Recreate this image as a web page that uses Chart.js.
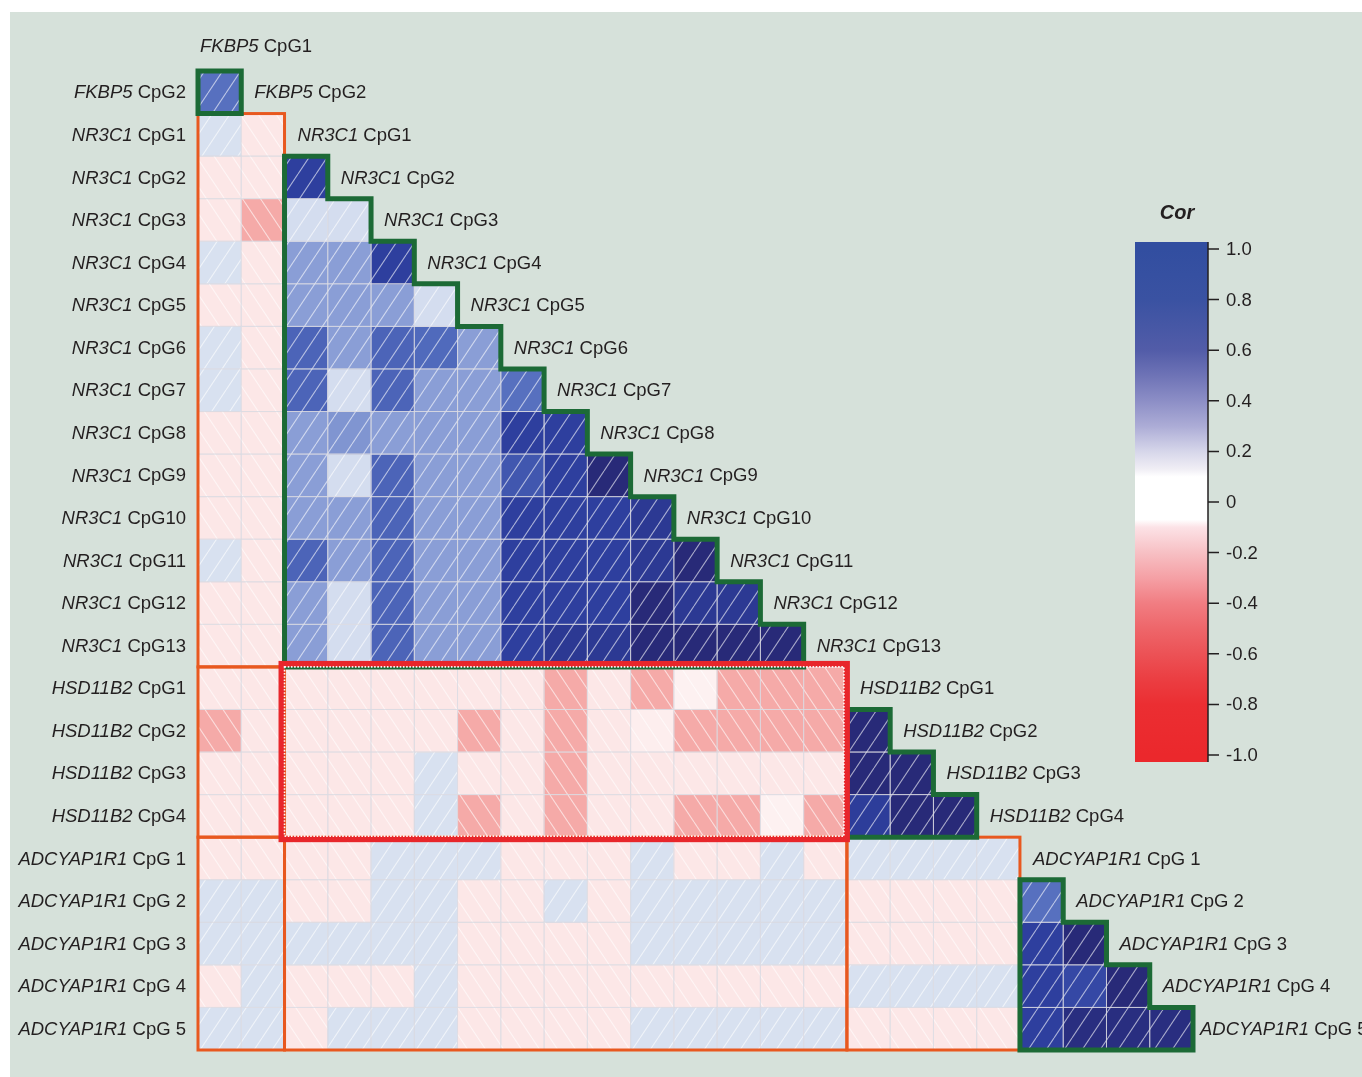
<!DOCTYPE html>
<html>
<head>
<meta charset="utf-8">
<script src="https://cdn.jsdelivr.net/npm/chart.js@4.4.0/dist/chart.umd.min.js"></script>
<style>
  html, body { margin: 0; padding: 0; background: #ffffff; }
  #panel { position: absolute; left: 10px; top: 12px; width: 1352px; height: 1065px; background: #d6e1da; }
  canvas { display: block; }
</style>
</head>
<body>
<div id="panel"><canvas id="corCanvas" width="1352" height="1065"></canvas></div>
<script>
// variables (gene + CpG site), in matrix order
const varGenes = ['FKBP5', 'FKBP5',
  'NR3C1', 'NR3C1', 'NR3C1', 'NR3C1', 'NR3C1', 'NR3C1', 'NR3C1', 'NR3C1', 'NR3C1', 'NR3C1', 'NR3C1', 'NR3C1', 'NR3C1',
  'HSD11B2', 'HSD11B2', 'HSD11B2', 'HSD11B2',
  'ADCYAP1R1', 'ADCYAP1R1', 'ADCYAP1R1', 'ADCYAP1R1', 'ADCYAP1R1'];
const varSites = ['CpG1', 'CpG2',
  'CpG1', 'CpG2', 'CpG3', 'CpG4', 'CpG5', 'CpG6', 'CpG7', 'CpG8', 'CpG9', 'CpG10', 'CpG11', 'CpG12', 'CpG13',
  'CpG1', 'CpG2', 'CpG3', 'CpG4',
  'CpG 1', 'CpG 2', 'CpG 3', 'CpG 4', 'CpG 5'];

// gene groups: first and last variable index
const geneNames = ['FKBP5', 'NR3C1', 'HSD11B2', 'ADCYAP1R1'];
const geneFirst = [0, 2, 15, 19];
const geneLast = [1, 14, 18, 23];

// lower-triangle correlations, one row per variable (columns = earlier variables)
const fkbp5Rows = [
  [0.60]
];
const nr3c1Rows = [
  [0.10, -0.10],
  [-0.10, -0.10, 0.85],
  [-0.10, -0.30, 0.12, 0.12],
  [0.10, -0.10, 0.45, 0.45, 0.85],
  [-0.10, -0.10, 0.45, 0.45, 0.45, 0.12],
  [0.10, -0.10, 0.65, 0.45, 0.65, 0.62, 0.45],
  [0.10, -0.10, 0.65, 0.12, 0.65, 0.45, 0.45, 0.60],
  [-0.10, -0.10, 0.45, 0.48, 0.45, 0.45, 0.45, 0.85, 0.85],
  [-0.10, -0.10, 0.45, 0.12, 0.65, 0.45, 0.45, 0.72, 0.85, 0.95],
  [-0.10, -0.10, 0.45, 0.45, 0.65, 0.45, 0.45, 0.85, 0.85, 0.85, 0.88],
  [0.10, -0.10, 0.65, 0.45, 0.65, 0.45, 0.45, 0.85, 0.85, 0.85, 0.88, 0.95],
  [-0.10, -0.10, 0.45, 0.12, 0.65, 0.45, 0.45, 0.85, 0.85, 0.85, 0.95, 0.88, 0.88],
  [-0.10, -0.10, 0.45, 0.12, 0.65, 0.45, 0.45, 0.85, 0.88, 0.88, 0.95, 0.95, 0.95, 0.95]
];
const hsd11b2Rows = [
  [-0.10, -0.10, -0.10, -0.10, -0.10, -0.10, -0.10, -0.10, -0.30, -0.10, -0.30, -0.06, -0.30, -0.30, -0.30],
  [-0.30, -0.10, -0.10, -0.10, -0.10, -0.10, -0.30, -0.10, -0.30, -0.10, -0.07, -0.30, -0.30, -0.30, -0.30, 0.95],
  [-0.10, -0.10, -0.10, -0.10, -0.10, 0.10, -0.10, -0.10, -0.30, -0.10, -0.10, -0.10, -0.10, -0.10, -0.10, 0.95, 0.95],
  [-0.10, -0.10, -0.10, -0.10, -0.10, 0.10, -0.30, -0.10, -0.30, -0.10, -0.10, -0.30, -0.30, -0.06, -0.30, 0.86, 0.95, 0.95]
];
const adcyap1r1Rows = [
  [-0.10, -0.10, -0.10, -0.10, 0.10, 0.10, 0.10, -0.10, -0.10, -0.10, 0.10, -0.10, -0.10, 0.10, -0.10, 0.10, 0.10, 0.10, 0.10],
  [0.10, 0.10, -0.10, -0.10, 0.10, 0.10, -0.10, -0.10, 0.10, -0.10, 0.10, 0.10, 0.10, 0.10, 0.10, -0.10, -0.10, -0.10, -0.10, 0.60],
  [0.10, 0.10, 0.10, 0.10, 0.10, 0.10, -0.10, -0.10, -0.10, -0.10, 0.10, 0.10, 0.10, 0.10, 0.10, -0.10, -0.10, -0.10, -0.10, 0.85, 0.95],
  [-0.10, 0.10, -0.10, -0.10, -0.10, 0.10, -0.10, -0.10, -0.10, -0.10, -0.10, -0.10, -0.10, -0.10, -0.10, 0.10, 0.10, 0.10, 0.10, 0.85, 0.80, 0.95],
  [0.10, 0.10, -0.10, 0.10, 0.10, 0.10, -0.10, -0.10, -0.10, -0.10, 0.10, 0.10, 0.10, 0.10, 0.10, -0.10, -0.10, -0.10, -0.10, 0.85, 0.93, 0.93, 0.93]
];

// colour bar ticks
const legendTicks = [1.0, 0.8, 0.6, 0.4, 0.2, 0, -0.2, -0.4, -0.6, -0.8, -1.0];
const legendTickLabels = ['1.0', '0.8', '0.6', '0.4', '0.2', '0', '-0.2', '-0.4', '-0.6', '-0.8', '-1.0'];

const corRows = [...fkbp5Rows, ...nr3c1Rows, ...hsd11b2Rows, ...adcyap1r1Rows];
const rowLabels = varGenes.slice(1).map((g, i) => g + ' ' + varSites[i + 1]);
const nCols = varGenes.length - 1;

const cellStops = [
  [-1.0, [232, 38, 42]],
  [-0.6, [238, 95, 98]],
  [-0.3, [245, 170, 168]],
  [-0.1, [252, 231, 231]],
  [0.0, [255, 255, 255]],
  [0.1, [216, 225, 240]],
  [0.45, [138, 158, 214]],
  [0.62, [80, 106, 188]],
  [0.85, [46, 63, 158]],
  [0.95, [40, 42, 120]],
  [1.0, [36, 36, 105]]
];
const legendStops = [
  [1.0, [50, 78, 160]], [0.8, [58, 82, 162]], [0.6, [82, 92, 168]], [0.5, [110, 115, 182]],
  [0.4, [140, 142, 198]], [0.3, [172, 172, 214]], [0.2, [214, 214, 234]], [0.13, [240, 238, 245]],
  [0.1, [255, 255, 255]], [-0.07, [255, 255, 255]], [-0.1, [252, 226, 230]], [-0.2, [247, 192, 196]],
  [-0.3, [245, 160, 165]], [-0.4, [241, 125, 130]], [-0.5, [238, 102, 106]], [-0.6, [236, 82, 86]],
  [-0.7, [235, 62, 66]], [-0.8, [235, 46, 50]], [-1.0, [235, 40, 44]]
];

function corColor(v) {
  for (let i = 0; i < cellStops.length - 1; i++) {
    const [a, ca] = cellStops[i], [b, cb] = cellStops[i + 1];
    if (v >= a && v <= b) {
      const t = (v - a) / (b - a);
      const c = ca.map((x, k) => Math.round(x + (cb[k] - x) * t));
      return 'rgb(' + c.join(',') + ')';
    }
  }
  return 'rgb(255,255,255)';
}

function makeHatch(forward) {
  const w = 18, h = 27;
  const c = document.createElement('canvas');
  c.width = w; c.height = h;
  const g = c.getContext('2d');
  g.strokeStyle = 'rgba(255,255,255,0.6)';
  g.lineWidth = 1.1;
  for (let k = -1; k <= 1; k++) {
    g.beginPath();
    if (forward) { g.moveTo(k * w, h); g.lineTo((k + 1) * w, 0); }
    else { g.moveTo(k * w, 0); g.lineTo((k + 1) * w, h); }
    g.stroke();
  }
  return c;
}

const FONT = '"Liberation Sans", Arial, Helvetica, sans-serif';
const FSIZE = '18.5px ';
const textColor = '#231f20';

function drawVarLabel(ctx, gene, site, x, y, align) {
  ctx.font = 'italic ' + FSIZE + FONT;
  const wg = ctx.measureText(gene).width;
  ctx.font = FSIZE + FONT;
  const ws = ctx.measureText(' ' + site).width;
  let x0 = align === 'right' ? x - wg - ws : x;
  ctx.textAlign = 'left';
  ctx.textBaseline = 'middle';
  ctx.fillStyle = textColor;
  ctx.font = 'italic ' + FSIZE + FONT;
  ctx.fillText(gene, x0, y);
  ctx.font = FSIZE + FONT;
  ctx.fillText(' ' + site, x0 + wg, y);
}

const corrDecor = {
  id: 'corrDecor',
  afterDatasetsDraw(chart) {
    const ctx = chart.ctx;
    const xs = chart.scales.x, ys = chart.scales.y;
    const rowH = (ys.bottom - ys.top) / rowLabels.length;
    const colEdge = k => xs.getPixelForValue(k);
    const rowEdge = k => ys.getPixelForValue(k) - rowH / 2;
    const slash = ctx.createPattern(makeHatch(true), 'repeat');
    const back = ctx.createPattern(makeHatch(false), 'repeat');

    // hatching + cell grid
    chart.data.datasets.forEach((ds, di) => {
      chart.getDatasetMeta(di).data.forEach((bar, i) => {
        const v = ds.corValues[i];
        const left = Math.min(bar.x, bar.base), w = Math.abs(bar.x - bar.base);
        const top = bar.y - bar.height / 2, h = bar.height;
        ctx.fillStyle = v >= 0 ? slash : back;
        ctx.fillRect(left, top, w, h);
        ctx.strokeStyle = 'rgba(220,220,226,0.7)';
        ctx.lineWidth = 1;
        ctx.strokeRect(left, top, w, h);
      });
    });

    ctx.save();
    ctx.lineJoin = 'miter';
    // between-gene blocks
    for (let g = 1; g < geneNames.length; g++) {
      for (let hh = 0; hh < g; hh++) {
        if (geneNames[g] === 'HSD11B2' && geneNames[hh] === 'NR3C1') continue;
        const x0 = colEdge(geneFirst[hh]), x1 = colEdge(geneLast[hh] + 1);
        const y0 = rowEdge(geneFirst[g] - 1), y1 = rowEdge(geneLast[g]);
        ctx.strokeStyle = '#e8581f';
        ctx.lineWidth = 3;
        ctx.strokeRect(x0, y0, x1 - x0, y1 - y0);
      }
    }
    // within-gene staircases
    for (let g = 0; g < geneNames.length; g++) {
      const s = geneFirst[g], e = geneLast[g] - 1;
      ctx.beginPath();
      ctx.moveTo(colEdge(s), rowEdge(s));
      for (let k = s; k <= e; k++) {
        ctx.lineTo(colEdge(k + 1), rowEdge(k));
        ctx.lineTo(colEdge(k + 1), rowEdge(k + 1));
      }
      ctx.lineTo(colEdge(s), rowEdge(e + 1));
      ctx.closePath();
      ctx.strokeStyle = '#1c6a36';
      ctx.lineWidth = 5;
      ctx.stroke();
    }
    // highlighted HSD11B2 x NR3C1 block
    {
      const x0 = colEdge(geneFirst[1]) - 3, x1 = colEdge(geneLast[1] + 1);
      const y0 = rowEdge(geneFirst[2] - 1) - 3, y1 = rowEdge(geneLast[2]) + 2;
      ctx.strokeStyle = '#e8262b';
      ctx.lineWidth = 6;
      ctx.strokeRect(x0, y0, x1 - x0, y1 - y0);
      ctx.strokeStyle = 'rgba(255,255,255,0.95)';
      ctx.lineWidth = 1.6;
      ctx.setLineDash([1.6, 1.6]);
      ctx.strokeRect(x0 + 3, y0 + 3, x1 - x0 - 6, y1 - y0 - 6);
      ctx.setLineDash([]);
    }
    ctx.restore();
  },
  afterDraw(chart) {
    const ctx = chart.ctx;
    const xs = chart.scales.x, ys = chart.scales.y;
    const rowH = (ys.bottom - ys.top) / rowLabels.length;
    const colEdge = k => xs.getPixelForValue(k);
    const rowMid = k => ys.getPixelForValue(k);

    // row labels on the left
    for (let r = 0; r < rowLabels.length; r++) {
      drawVarLabel(ctx, varGenes[r + 1], varSites[r + 1], colEdge(0) - 12, rowMid(r) + 1, 'right');
    }
    // diagonal labels
    for (let v = 0; v < varGenes.length; v++) {
      let x = colEdge(v) + 13, y = rowMid(v - 1) + 1;
      if (v === 0) { x = colEdge(0) + 2; y = rowMid(0) - rowH - 3; }
      if (v === varGenes.length - 1) x = colEdge(v) + 7;
      drawVarLabel(ctx, varGenes[v], varSites[v], x, y, 'left');
    }

    // colour key
    const bx0 = 1125, bx1 = 1198, by0 = 230, by1 = 750;
    const tyTop = 237, tyBot = 743;
    const tickY = v => tyTop + (1 - v) / 2 * (tyBot - tyTop);
    const grad = ctx.createLinearGradient(0, by0, 0, by1);
    grad.addColorStop(0, 'rgb(' + legendStops[0][1].join(',') + ')');
    legendStops.forEach(([v, c]) => {
      grad.addColorStop((tickY(v) - by0) / (by1 - by0), 'rgb(' + c.join(',') + ')');
    });
    grad.addColorStop(1, 'rgb(' + legendStops[legendStops.length - 1][1].join(',') + ')');
    ctx.fillStyle = grad;
    ctx.fillRect(bx0, by0, bx1 - bx0, by1 - by0);

    ctx.strokeStyle = '#231f20';
    ctx.lineWidth = 1.5;
    ctx.beginPath();
    ctx.moveTo(bx1, by0);
    ctx.lineTo(bx1, by1);
    legendTicks.forEach(v => {
      ctx.moveTo(bx1, tickY(v));
      ctx.lineTo(bx1 + 11, tickY(v));
    });
    ctx.stroke();

    ctx.fillStyle = textColor;
    ctx.font = FSIZE + FONT;
    ctx.textAlign = 'left';
    ctx.textBaseline = 'middle';
    legendTicks.forEach((v, i) => ctx.fillText(legendTickLabels[i], bx1 + 18, tickY(v) + 1));

    ctx.font = 'italic bold 20px ' + FONT;
    ctx.textAlign = 'center';
    ctx.fillText('Cor', 1167, 201);
  }
};

const datasets = corRows.map((vals, r) => ({
  label: rowLabels[r],
  data: vals.map((v, c) => ({ x: [c, c + 1], y: rowLabels[r] })),
  corValues: vals,
  backgroundColor: vals.map(corColor),
  borderWidth: 0,
  barPercentage: 1,
  categoryPercentage: 1,
  grouped: false
}));

new Chart(document.getElementById('corCanvas').getContext('2d'), {
  type: 'bar',
  data: { labels: rowLabels, datasets: datasets },
  options: {
    indexAxis: 'y',
    responsive: false,
    animation: false,
    layout: { padding: { left: 188, top: 59, right: 169, bottom: 27 } },
    scales: {
      x: { type: 'linear', min: 0, max: nCols, display: false },
      y: { type: 'category', display: false }
    },
    plugins: {
      legend: { display: false },
      tooltip: { enabled: false }
    }
  },
  plugins: [corrDecor]
});
</script>
</body>
</html>
